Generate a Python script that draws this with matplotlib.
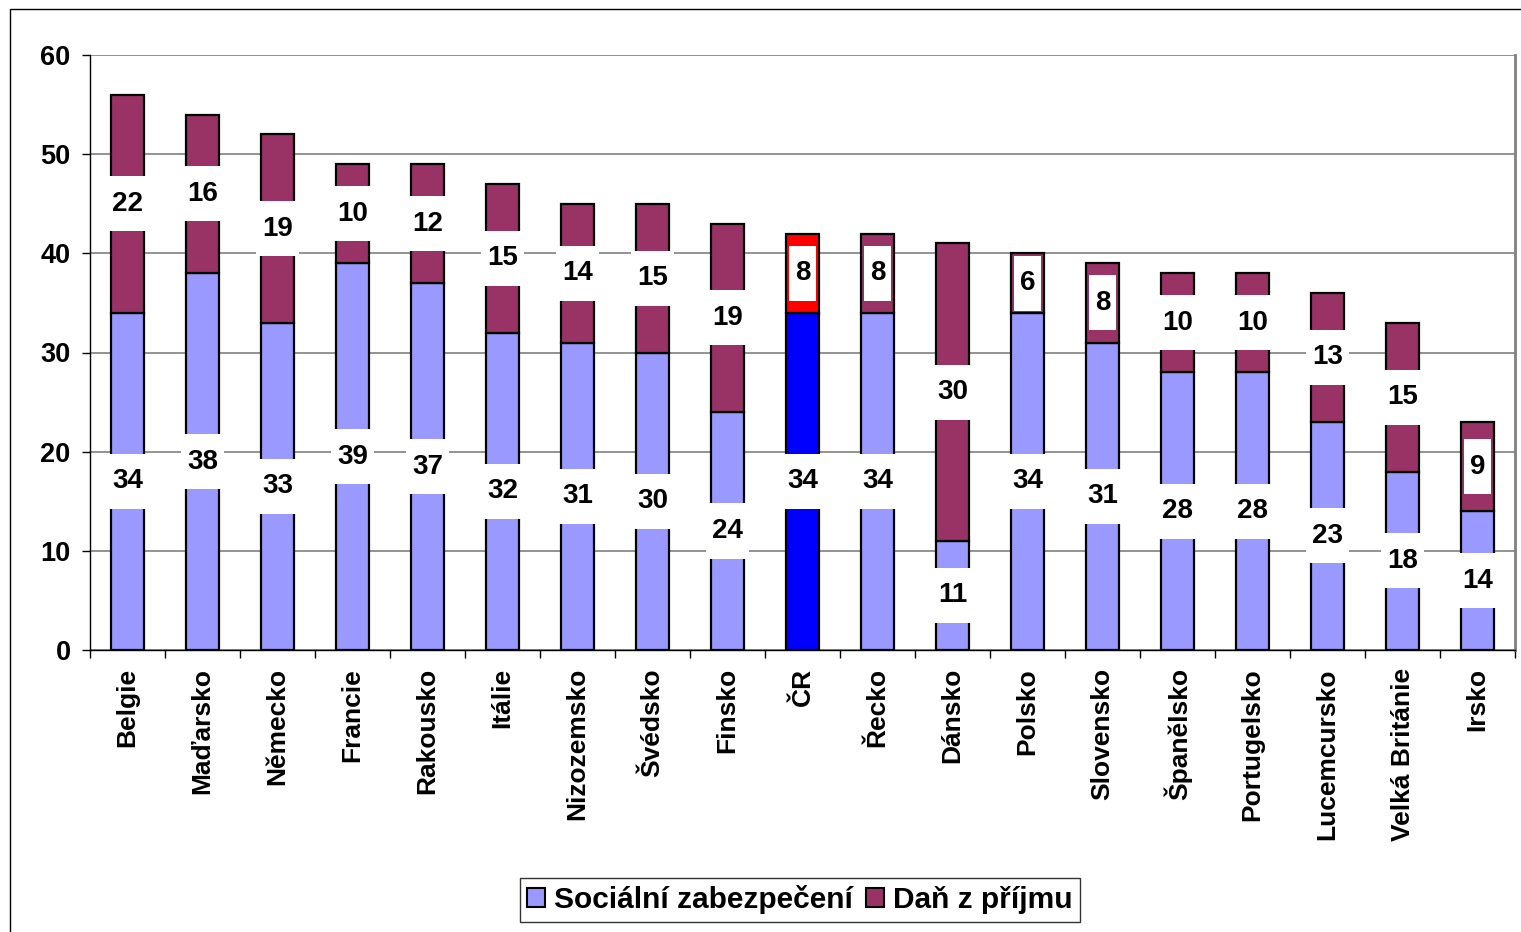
import numpy as np
import matplotlib.pyplot as plt
import matplotlib.patches as mpatches

zemeList = ['Belgie', 'Maďarsko', 'Německo', 'Francie', 'Rakousko', 'Itálie',
            'Nizozemsko', 'Švédsko', 'Finsko', 'ČR', 'Řecko', 'Dánsko', 'Polsko',
            'Slovensko', 'Španělsko', 'Portugelsko', 'Lucemcursko',
            'Velká Británie', 'Irsko']
socialni = [34, 38, 33, 39, 37, 32, 31, 30, 24, 34, 34, 11, 34, 31, 28, 28, 23, 18, 14]
dan = [22, 16, 19, 10, 12, 15, 14, 15, 19, 8, 8, 30, 6, 8, 10, 10, 13, 15, 9]
yTicks = [0, 10, 20, 30, 40, 50, 60]

plt.rcParams['font.family'] = ['Liberation Sans', 'DejaVu Sans']
plt.rcParams['font.weight'] = 'bold'

cSoc = '#9999FF'
cDan = '#993366'
cSocCR = '#0000FF'
cDanCR = '#FF0000'

fig = plt.figure(figsize=(15.21, 9.32), dpi=100)
ax = fig.add_axes([90/1521, 1-650/932, 1425/1521, 595/932])

x = np.arange(len(zemeList))
socCol = [cSocCR if z == 'ČR' else cSoc for z in zemeList]
danCol = [cDanCR if z == 'ČR' else cDan for z in zemeList]

ax.bar(x, socialni, width=0.45, color=socCol, edgecolor='black', linewidth=1.6, zorder=2)
ax.bar(x, dan, width=0.45, bottom=socialni, color=danCol, edgecolor='black', linewidth=1.6, zorder=2)

# popisky hodnot s bilym pozadim (prazdne radky = vyssi ramecek)
for i in range(len(zemeList)):
    for val, yc in [(socialni[i], socialni[i]/2.0), (dan[i], socialni[i] + dan[i]/2.0)]:
        ax.text(x[i], yc, '\n%d\n' % val, ha='center', va='center', fontsize=20,
                fontweight='bold', linespacing=0.12, zorder=4,
                bbox=dict(boxstyle='square,pad=0.22', facecolor='white', edgecolor='none'))

ax.set_xlim(-0.5, len(zemeList) - 0.5)
ax.set_ylim(0, 60)
ax.set_yticks(yTicks)
ax.set_yticklabels([str(t) for t in yTicks], fontsize=19.5, fontweight='bold')
ax.set_xticks(x)
ax.set_xticklabels(zemeList, rotation=90, fontsize=19, fontweight='bold', va='top')
ax.set_xticks(np.arange(len(zemeList) + 1) - 0.5, minor=True)
ax.tick_params(axis='x', which='major', length=0, pad=13)
ax.tick_params(axis='x', which='minor', length=5.5, width=1, direction='out')
ax.tick_params(axis='y', length=6, width=1, pad=8)

ax.grid(axis='y', color='#808080', linewidth=1.2, zorder=0)
ax.set_axisbelow(True)
ax.spines['top'].set_visible(False)
ax.spines['right'].set_color('#808080')
ax.spines['right'].set_linewidth(2)
ax.spines['left'].set_linewidth(1)
ax.spines['bottom'].set_linewidth(1)

# ramecek kolem grafu
fig.patches.append(mpatches.Rectangle((10/1521, -0.1), 1.2, 1.1 - 9/932, transform=fig.transFigure,
                                      fill=False, edgecolor='black', linewidth=1))

handles = [mpatches.Patch(facecolor=cSoc, edgecolor='black', linewidth=1.5, label='Sociální zabezpečení'),
           mpatches.Patch(facecolor=cDan, edgecolor='black', linewidth=1.5, label='Daň z příjmu')]
leg = fig.legend(handles=handles, loc='center', bbox_to_anchor=(800/1521, 1-900/932), ncol=2,
                 prop={'size': 21.5, 'weight': 'bold'}, frameon=True, fancybox=False,
                 handlelength=0.6, handleheight=0.6, handletextpad=0.3, columnspacing=0.45,
                 borderpad=0.25, borderaxespad=0)
leg.get_frame().set_edgecolor('black')
leg.get_frame().set_linewidth(1)

fig.savefig('out.png', dpi=100)
